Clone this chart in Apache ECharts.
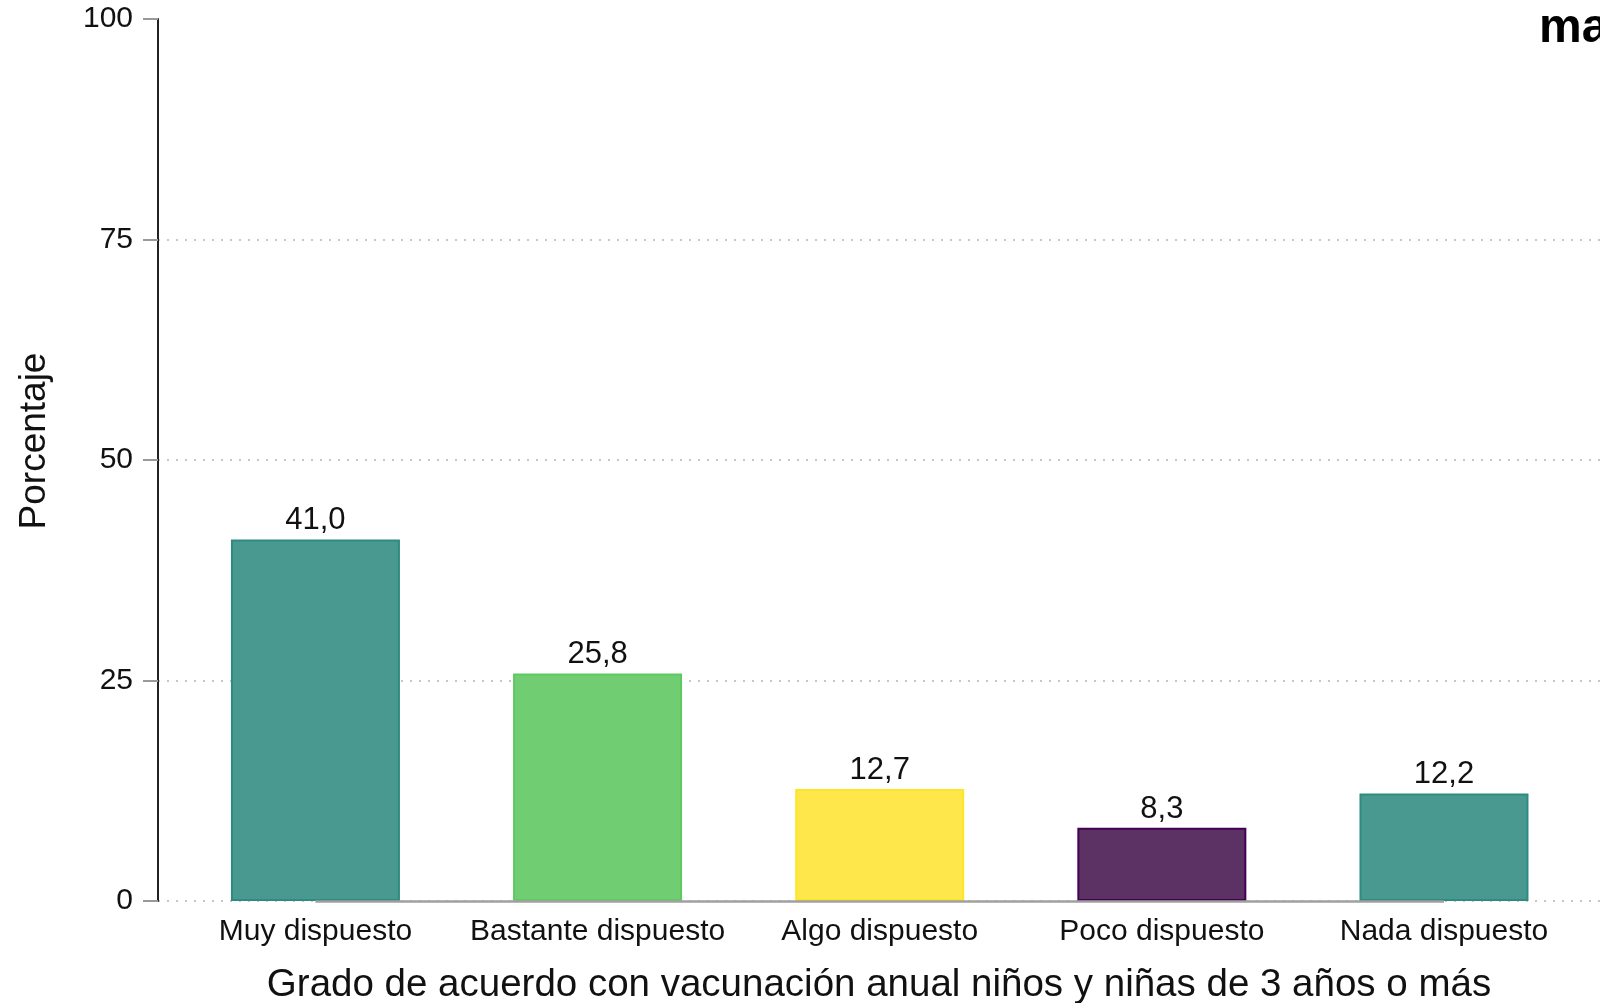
<!DOCTYPE html>
<html>
<head>
<meta charset="utf-8">
<title>Grado de acuerdo con vacunación anual</title>
<script src="https://cdn.jsdelivr.net/npm/echarts@6/dist/echarts.min.js"></script>
<style>
  html, body { margin: 0; padding: 0; background: #fff; }
  #chart { width: 1600px; height: 1003px; }
</style>
</head>
<body>
<div id="chart"></div>
<script>
// datos
const categories = ['Muy dispuesto', 'Bastante dispuesto', 'Algo dispuesto', 'Poco dispuesto', 'Nada dispuesto'];
const values = [41.0, 25.8, 12.7, 8.3, 12.2];
const fillColors = ['#4a9990', '#70cd72', '#fde74a', '#5c3265', '#4a9990'];
const borderColors = ['#2e8b80', '#5ec962', '#fde725', '#440154', '#2e8b80'];
const yTicks = [0, 25, 50, 75, 100];

const font = "'Liberation Sans', Arial, Helvetica, sans-serif";

let chart = echarts.init(document.getElementById('chart'));

let barData = values.map((v, i) => ({
  value: [i, v],
  itemStyle: { color: fillColors[i], borderColor: borderColors[i], borderWidth: 2 }
}));

let option = {
  backgroundColor: '#fff',
  animation: false,
  grid: { left: 158, right: 0, top: 19, bottom: 102, outerBoundsMode: 'none', containLabel: false },
  xAxis: {
    type: 'value',
    min: -0.558,
    max: 4.553,
    splitLine: { show: false },
    axisLine: { show: false },
    axisTick: { show: false },
    axisLabel: {
      customValues: [0, 1, 2, 3, 4],
      formatter: v => categories[Math.round(v)],
      color: '#111',
      fontFamily: font,
      fontSize: 30,
      margin: 16
    },
    name: 'Grado de acuerdo con vacunación anual niños y niñas de 3 años o más',
    nameLocation: 'middle',
    nameGap: 65,
    nameMoveOverlap: false,
    nameTextStyle: { color: '#111', fontFamily: font, fontSize: 38.5 }
  },
  yAxis: {
    type: 'value',
    min: yTicks[0],
    max: yTicks[yTicks.length - 1],
    interval: 25,
    axisLine: { show: true, onZero: false, lineStyle: { color: '#222', width: 2 } },
    axisTick: { show: true, length: 15, lineStyle: { color: '#999', width: 2 } },
    axisLabel: { color: '#111', fontFamily: font, fontSize: 30, margin: 25 },
    splitLine: { show: true, showMaxLine: false, lineStyle: { color: '#b5b5b5', width: 1.5, type: [2, 7] } }
  },
  series: [
    {
      type: 'bar',
      barWidth: 169,
      data: barData,
      label: {
        show: true,
        position: 'top',
        distance: 3,
        color: '#111',
        fontFamily: font,
        fontSize: 31,
        formatter: p => p.value[1].toFixed(1).replace('.', ',')
      },
      // linea base del eje x, de centro a centro
      markLine: {
        silent: true,
        symbol: 'none',
        label: { show: false },
        lineStyle: { color: '#a0a0a0', width: 2.5, type: 'solid' },
        data: [[{ coord: [0, 0] }, { coord: [categories.length - 1, 0] }]]
      }
    }
  ],
  graphic: [
    {
      type: 'text',
      x: 35,
      y: 441,
      rotation: Math.PI / 2,
      style: {
        text: 'Porcentaje',
        fill: '#111',
        font: '37px ' + font,
        textAlign: 'center',
        textVerticalAlign: 'middle'
      }
    },
    {
      type: 'text',
      left: 1539,
      top: 5,
      style: {
        text: 'ma',
        fill: '#000',
        font: 'bold 48px ' + font
      }
    }
  ]
};

chart.setOption(option);
</script>
</body>
</html>
